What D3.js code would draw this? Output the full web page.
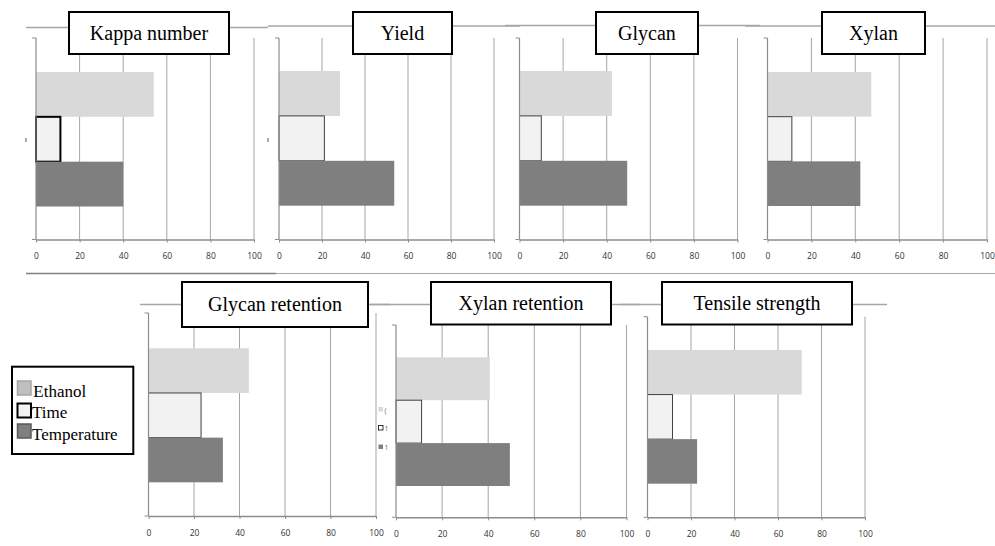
<!DOCTYPE html>
<html><head><meta charset="utf-8">
<script src="https://cdn.jsdelivr.net/npm/d3@7"></script>
<style>
html,body{margin:0;padding:0;background:#fff;}
svg{display:block;}
</style></head>
<body>
<svg id="chart" width="995" height="546"></svg>
<script>
// ---------- data ----------
const panels = ["Kappa number","Yield","Glycan","Xylan","Glycan retention","Xylan retention","Tensile strength"];
const seriesNames = ["Ethanol","Time","Temperature"];
const ethanol     = [54.0, 28.4, 42.4, 47.3, 44.1, 40.7, 70.9];
const time        = [11.2, 21.1, 10.0, 11.1, 23.1, 11.1, 11.5];
const temperature = [40.0, 53.6, 49.4, 42.3, 32.7, 49.4, 22.8];
const xTicks = [0, 20, 40, 60, 80, 100];
const legendStubs = ["(", "1", "1"];

const SERIF = '"Liberation Serif"';
const SANS = '"Open Sans"';

// ---------- layout (pixels) ----------
const layout = [
  {x0:36,    x1:254,   yTop:38,  yBot:239.5, bTop:72,    bBot:206.5, tb:[69,229,12,54],     hl:[26,268,27.5],  timeStroke:2},
  {x0:279,   x1:494,   yTop:38,  yBot:239.5, bTop:71,    bBot:205.7, tb:[353,452,12,54],    hl:[268,520,26],   timeStroke:1},
  {x0:519.5, x1:737.5, yTop:38,  yBot:239.5, bTop:71,    bBot:205.7, tb:[596,698,12,54],    hl:[505,760,25.5], timeStroke:1},
  {x0:767.5, x1:987,   yTop:38,  yBot:239.5, bTop:72,    bBot:206,   tb:[822,925,12,54],    hl:[745,995,26],   timeStroke:1},
  {x0:148.5, x1:376,   yTop:313, yBot:516,   bTop:348.3, bBot:482.3, tb:[182,368,282,327],  hl:[140,390,304.5],timeStroke:1},
  {x0:396,   x1:626.5, yTop:325, yBot:517.3, bTop:357.3, bBot:486,   tb:[431,611,282,324.5],hl:[370,640,304.5],timeStroke:1},
  {x0:647.5, x1:865,   yTop:316.7,yBot:517.3,bTop:350,   bBot:483.7, tb:[662,852,282,324.5],hl:[620,887,304.5],timeStroke:1}
];
const fills = {Ethanol:"#d9d9d9", Time:"#f2f2f2", Temperature:"#7f7f7f"};
const values = {Ethanol:ethanol, Time:time, Temperature:temperature};

const svg = d3.select("#chart");

// separator line between rows
svg.append("line").attr("x1",26).attr("x2",276).attr("y1",273.5).attr("y2",273.5)
  .attr("stroke","#808080").attr("stroke-width",1.5);
svg.append("line").attr("x1",276).attr("x2",995).attr("y1",273.5).attr("y2",273.5)
  .attr("stroke","#a6a6a6").attr("stroke-width",1);

// stray category tick marks
[[26,140],[268,140]].forEach(p=>{
  svg.append("line").attr("x1",p[0]).attr("x2",p[0]).attr("y1",p[1]-2).attr("y2",p[1]+2)
    .attr("stroke","#555").attr("stroke-width",1);
});

panels.forEach((name,i)=>{
  const L = layout[i];
  const g = svg.append("g");
  const x = d3.scaleLinear().domain([0,100]).range([L.x0, L.x1]);
  const y = d3.scaleBand().domain(seriesNames).range([L.bTop, L.bBot]).padding(0);

  g.append("line").attr("x1",L.hl[0]).attr("x2",L.hl[1]).attr("y1",L.hl[2]).attr("y2",L.hl[2])
    .attr("stroke","#a6a6a6").attr("stroke-width",1.5);

  g.selectAll("line.grid").data(xTicks.slice(1)).join("line").attr("class","grid")
    .attr("x1",d=>x(d)).attr("x2",d=>x(d)).attr("y1",L.yTop).attr("y2",L.yBot)
    .attr("stroke","#a6a6a6").attr("stroke-width",1);

  g.selectAll("rect.bar").data(seriesNames).join("rect").attr("class","bar")
    .attr("x",x(0)).attr("y",s=>y(s)).attr("width",s=>x(values[s][i])-x(0)).attr("height",y.bandwidth())
    .attr("fill",s=>fills[s])
    .attr("stroke",s=> s==="Time" ? (L.timeStroke>1 ? "#000" : "#404040") : "none")
    .attr("stroke-width",s=> s==="Time" ? L.timeStroke : 0);

  g.append("line").attr("x1",x(0)).attr("x2",x(0)).attr("y1",L.yTop).attr("y2",L.yBot)
    .attr("stroke","#8c8c8c").attr("stroke-width",1.2);
  g.append("line").attr("x1",x(0)-4).attr("x2",x(0)).attr("y1",L.yTop).attr("y2",L.yTop)
    .attr("stroke","#8c8c8c").attr("stroke-width",1);
  g.append("line").attr("x1",x(0)-4).attr("x2",x(0)).attr("y1",L.yBot).attr("y2",L.yBot)
    .attr("stroke","#8c8c8c").attr("stroke-width",1);

  const ax = d3.axisBottom(x).tickValues(xTicks).tickSizeInner(3).tickSizeOuter(0).tickPadding(10.5)
    .tickFormat(d3.format("d"));
  const axg = g.append("g").attr("transform",`translate(0,${L.yBot})`).call(ax);
  axg.select(".domain").attr("stroke","#8c8c8c").attr("stroke-width",1.5);
  axg.selectAll(".tick line").attr("stroke","#8c8c8c");
  axg.selectAll(".tick text").style("font-family",SANS).style("font-size","8.5px").attr("fill","#333");

  const [tx0,tx1,ty0,ty1] = L.tb;
  g.append("rect").attr("x",tx0).attr("y",ty0).attr("width",tx1-tx0).attr("height",ty1-ty0)
    .attr("fill","#fff").attr("stroke","#000").attr("stroke-width",2);
  g.append("text").attr("x",(tx0+tx1)/2).attr("y",(ty0+ty1)/2+6.5)
    .attr("text-anchor","middle").style("font-family",SERIF).style("font-size","20px")
    .attr("fill","#000").text(name);
});

// legend
const lg = svg.append("g");
lg.append("rect").attr("x",12).attr("y",366.7).attr("width",121.3).attr("height",87.3)
  .attr("fill","#fff").attr("stroke","#000").attr("stroke-width",2);
const swFill = {Ethanol:"#bfbfbf", Time:"#f2f2f2", Temperature:"#7f7f7f"};
const swStroke = {Ethanol:"#a6a6a6", Time:"#000", Temperature:"#595959"};
const swY = [381, 403.5, 424];
const txY = [396.7, 418.3, 440];
seriesNames.forEach((s,k)=>{
  lg.append("rect").attr("x",17.5).attr("y",swY[k]).attr("width",13.5).attr("height",14)
    .attr("fill",swFill[s]).attr("stroke",swStroke[s]).attr("stroke-width",s==="Time"?2:1.5);
  lg.append("text").attr("x",k===0?33.3:32).attr("y",txY[k])
    .style("font-family",SERIF).style("font-size","17px").attr("fill","#000").text(s);
});

// clipped legend remnants
const stubY = [407, 425.5, 444.5];
seriesNames.forEach((s,k)=>{
  svg.append("rect").attr("x",378.5).attr("y",stubY[k]).attr("width",4.5).attr("height",4.5)
    .attr("fill", s==="Time" ? "#fff" : fills[s])
    .attr("stroke", s==="Time" ? "#000" : "none").attr("stroke-width",0.8);
  svg.append("text").attr("x",384.5).attr("y",stubY[k]+5.5)
    .style("font-family",SANS).style("font-size","7px").attr("fill","#666").text(legendStubs[k]);
});
</script>
</body></html>
